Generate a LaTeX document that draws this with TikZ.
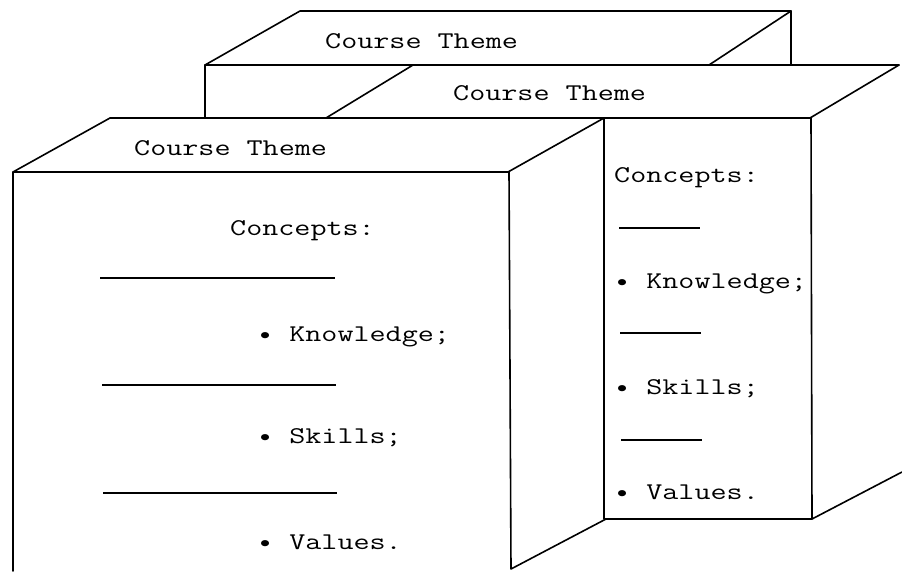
\documentclass[tikz,border=0pt]{standalone}
\usepackage{graphicx}
\tikzset{
  edge/.style={line width=1.6pt, line cap=round, line join=round},
  rulel/.style={line width=1.5pt},
  txt/.style={anchor=base west, inner sep=0pt, font=\fontsize{24}{24}\selectfont\ttfamily}
}
\newcommand{\tw}[1]{\scalebox{1.3}[1]{#1}}
\begin{document}
\begin{tikzpicture}[x=1pt,y=-1pt]
\useasboundingbox (0,0) rectangle (902,571);
% back box
\draw[edge] (205,118) -- (205,65) -- (300,11) -- (791,11) -- (709,65);
\draw[edge] (791,11) -- (791,65);
\draw[edge] (205,65) -- (899,65);
% middle box
\draw[edge] (413,65) -- (326,118);
\draw[edge] (899,65) -- (810,118);
\draw[edge] (110,118) -- (810,118);
\draw[edge] (604,118) -- (604,519) -- (812,519) -- (811,118);
\draw[edge] (812,519) -- (902,472);
% front box
\draw[edge] (110,118) -- (13,172) -- (508,172) -- (604,118);
\draw[edge] (13,172) -- (13,571);
\draw[edge] (509,172) -- (511,569) -- (606,519);
% titles
\node[txt] (t1) at (325,48) {\tw{Course Theme}};
\node[txt] (t2) at (453,100) {\tw{Course Theme}};
\node[txt] (t3) at (134,155) {\tw{Course Theme}};
% front content
\node[txt] (fc) at (230,235) {\tw{Concepts:}};
\draw[rulel] (100,278) -- (335,278);
\node[txt] (fk) at (257,341) {\tw{\textbullet{} Knowledge;}};
\draw[rulel] (102,385) -- (336,385);
\node[txt] (fs) at (257,443) {\tw{\textbullet{} Skills;}};
\draw[rulel] (103,493) -- (337,493);
\node[txt] (fv) at (257,549) {\tw{\textbullet{} Values.}};
% right content
\node[txt] (rc) at (614,182) {\tw{Concepts:}};
\draw[rulel] (619,228) -- (700,228);
\node[txt] (rk) at (614,288) {\tw{\textbullet{} Knowledge;}};
\draw[rulel] (620,333) -- (701,333);
\node[txt] (rs) at (614,394) {\tw{\textbullet{} Skills;}};
\draw[rulel] (621,440) -- (702,440);
\node[txt] (rv) at (614,499) {\tw{\textbullet{} Values.}};
\end{tikzpicture}
\end{document}
